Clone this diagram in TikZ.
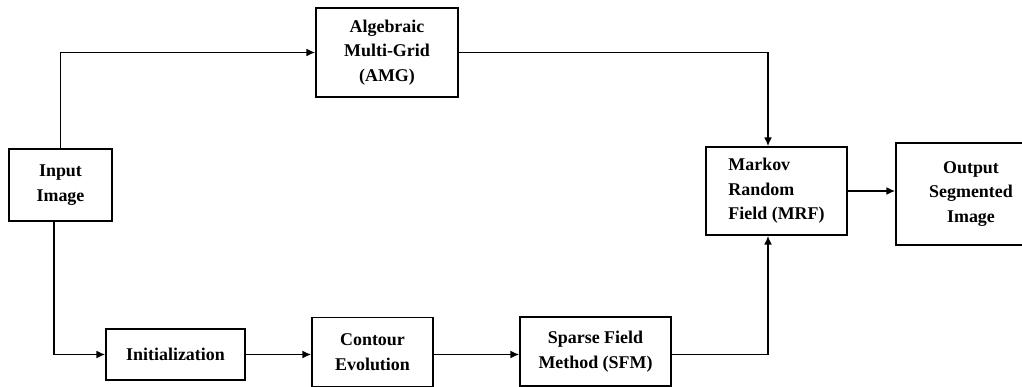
\documentclass[tikz,border=0pt]{standalone}
\usepackage{fontspec}
\setmainfont{Liberation Serif}
\usepackage{tikz}
\usetikzlibrary{positioning, arrows.meta, shapes}
\tikzstyle{arrow} = [line width=0.9pt,-{Latex[length=5pt,width=4.5pt]}]

\begin{document}
\begin{tikzpicture}
                    \tikzstyle{every node}=[font=\fontsize{10.2}{14}\selectfont\bfseries]
                    \tikzstyle{block} = [rectangle, draw=black, line width=0.9pt, inner sep=0pt, align=center]

                    \useasboundingbox (0,0) rectangle (20.44,-7.74);

                    \node[block, minimum width=2.06cm, minimum height=1.44cm](input) at (1.21,-3.70) {Input\\Image};
                    \node[block, minimum width=2.84cm, minimum height=1.78cm](amg) at (7.74,-1.05) {Algebraic\\Multi-Grid\\(AMG)};
                    \node[block, minimum width=2.78cm, minimum height=1.02cm](init) at (3.51,-7.09) {Initialization};
                    \node[block, minimum width=2.42cm, minimum height=1.38cm](contour) at (7.45,-7.04) {Contour\\Evolution};
                    \node[block, minimum width=3.02cm, minimum height=1.38cm](sfm) at (11.91,-7.03) {Sparse Field\\Method (SFM)};
                    \node[block, align=left, minimum width=2.82cm, minimum height=1.76cm](mrf) at (15.53,-3.82) {Markov\\Random\\Field (MRF)};
                    \node[block, minimum width=3.0cm, minimum height=2.04cm](output) at (19.42,-3.88) {Output\\Segmented\\Image};

                    % upper branch
                    \draw[arrow] (input.north) |- (amg.west);
                    \draw[arrow] (amg.east) -| ([xshift=-0.17cm]mrf.north);

                    % lower branch
                    \draw[arrow] ([xshift=-0.13cm]input.south) |- (init.west);
                    \draw[arrow] (init.east) -- (init.east -| contour.west);
                    \draw[arrow] (contour.east |- init.east) -- (init.east -| sfm.west);
                    \draw[arrow] (sfm.east |- init.east) -| ([xshift=-0.17cm]mrf.south);

                    \draw[arrow] (mrf.east) -- (mrf.east -| output.west);
\end{tikzpicture}
\end{document}
